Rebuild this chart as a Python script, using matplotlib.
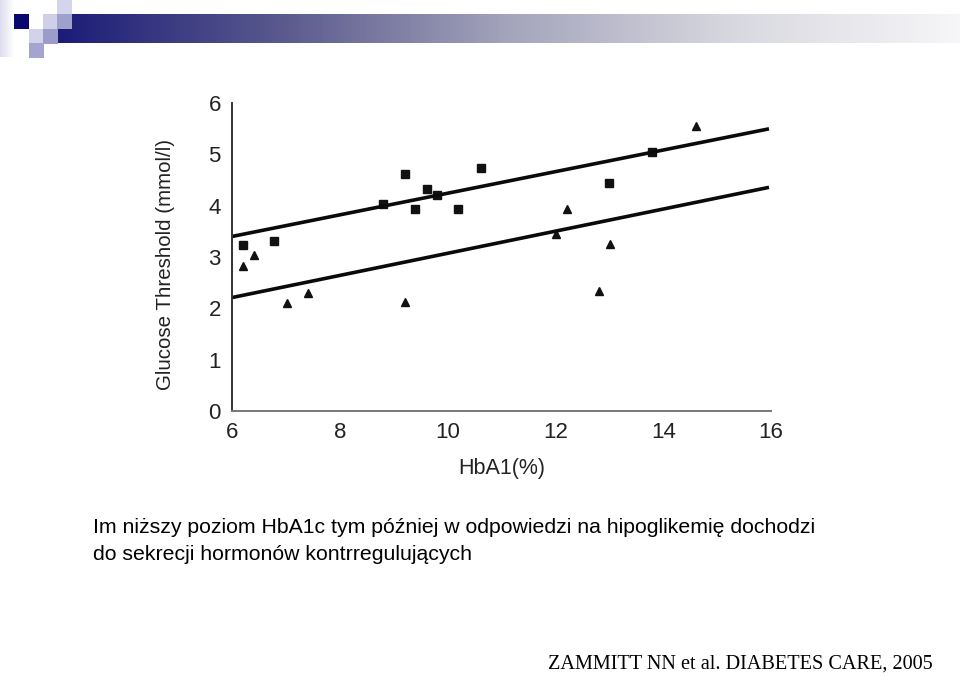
import numpy as np
import matplotlib
matplotlib.use("Agg")
import matplotlib.pyplot as plt
from matplotlib.patches import Rectangle
from matplotlib.colors import LinearSegmentedColormap

# data
sq_x = [6.2, 6.78, 8.8, 9.21, 9.4, 9.62, 9.8, 10.19, 10.62, 12.99, 13.79]
sq_y = [3.24, 3.31, 4.03, 4.62, 3.94, 4.33, 4.21, 3.94, 4.74, 4.44, 5.05]
tri_x = [6.2, 6.41, 7.02, 7.41, 9.21, 12.01, 12.21, 12.81, 13.01, 14.61]
tri_y = [2.83, 3.04, 2.11, 2.30, 2.12, 3.45, 3.94, 2.34, 3.26, 5.56]
upper_x = [6.0, 15.93]
upper_y = [3.40, 5.49]
lower_x = [6.0, 15.93]
lower_y = [2.21, 4.35]
xticks = [6, 8, 10, 12, 14, 16]
yticks = [0, 1, 2, 3, 4, 5, 6]

fig = plt.figure(figsize=(9.6, 6.76), dpi=100)

# slide decoration (header squares + gradient bar)
deco = fig.add_axes([0, 0, 1, 1])
deco.set_xlim(0, 960)
deco.set_ylim(676, 0)
deco.axis("off")
cmap = LinearSegmentedColormap.from_list(
    "bar", ["#1c1c78", "#5a5a8e", "#a4a4bc", "#d8d8e0", "#f6f6f8"])
grad = np.linspace(0, 1, 256).reshape(1, -1)
deco.imshow(grad, cmap=cmap, extent=[57, 960, 43, 14], aspect="auto")
lgrad = np.linspace(1, 0, 64).reshape(1, -1)
deco.imshow(lgrad, cmap=LinearSegmentedColormap.from_list("l", ["#ffffff", "#dcdcee"]),
            extent=[0, 14, 57, 0], aspect="auto")
for (x0, y0, c) in [(14, 14, "#08086e"), (43, 14, "#cfcfe8"), (57, 0, "#d4d4ec"),
                    (57, 14, "#a0a0cc"), (29, 29, "#d2d2ea"), (43, 29, "#9c9cca"),
                    (29, 43, "#a4a4d0")]:
    deco.add_patch(Rectangle((x0, y0), 14.5, 14.5, color=c, lw=0))

ax = fig.add_axes([232 / 960, 1 - 411 / 676, (771 - 232) / 960, 308 / 676])
ax.plot(sq_x, sq_y, "s", color="#111111", markersize=6)
ax.plot(tri_x, tri_y, "^", color="#111111", markersize=6)
ax.plot(upper_x, upper_y, "-", color="#0a0a0a", lw=2.6)
ax.plot(lower_x, lower_y, "-", color="#0a0a0a", lw=2.6)

ax.set_xlim(6, 16)
ax.set_ylim(0, 6)
ax.set_xticks(xticks)
ax.set_yticks(yticks)
ax.tick_params(length=0, labelsize=16, pad=8)
for lab in ax.get_xticklabels() + ax.get_yticklabels():
    lab.set_family("Liberation Sans")
    lab.set_color("#222222")
ax.spines["top"].set_visible(False)
ax.spines["right"].set_visible(False)
ax.spines["left"].set_color("#333333")
ax.spines["left"].set_linewidth(1.4)
ax.spines["bottom"].set_color("#777777")
ax.spines["bottom"].set_linewidth(1.4)
ax.set_xlabel("HbA1(%)", fontsize=15.5, family="Liberation Sans", color="#222222", labelpad=11)
ax.set_ylabel("Glucose Threshold (mmol/l)", fontsize=14.8, family="Liberation Sans",
              color="#222222")
ax.yaxis.set_label_coords(-0.1058, 0.477)

fig.text(93 / 960, 1 - 541 / 676,
         "Im niższy poziom HbA1c tym później w odpowiedzi na hipoglikemię dochodzi\n"
         "do sekrecji hormonów kontrregulujących",
         fontsize=15.3, family="Liberation Sans", va="center", ha="left", linespacing=1.55)
fig.text(933 / 960, 1 - 664 / 676, "ZAMMITT NN et al. DIABETES CARE, 2005",
         fontsize=14.6, family="Liberation Serif", va="center", ha="right")

fig.savefig("out.png", dpi=100)
